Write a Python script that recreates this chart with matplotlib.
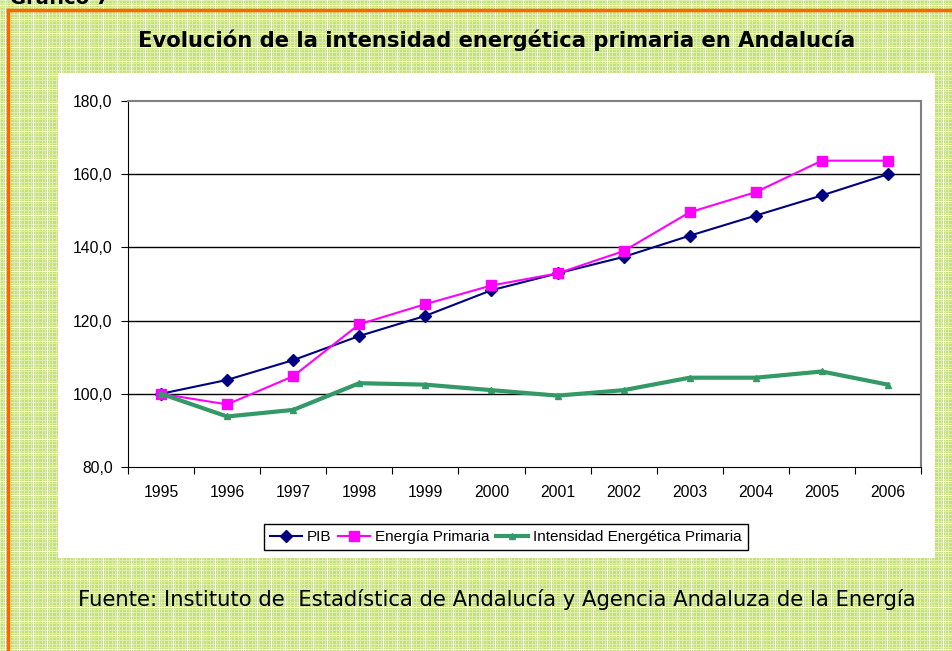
import numpy as np
import matplotlib
matplotlib.use("Agg")
import matplotlib.pyplot as plt
from matplotlib.patches import Rectangle
from matplotlib.lines import Line2D

# Datos (índice 1995 = 100)
years = ["1995", "1996", "1997", "1998", "1999", "2000",
         "2001", "2002", "2003", "2004", "2005", "2006"]
pib = [100.0, 103.8, 109.2, 115.8, 121.3, 128.3,
       132.9, 137.4, 143.2, 148.7, 154.2, 160.0]
energia = [100.0, 97.1, 104.8, 119.0, 124.5, 129.6,
           132.9, 139.0, 149.6, 155.1, 163.7, 163.7]
intensidad = [100.0, 93.8, 95.6, 102.9, 102.5, 101.0,
              99.5, 101.0, 104.4, 104.4, 106.1, 102.5]
yticks = [80, 100, 120, 140, 160, 180]

W, H = 952, 651
fig = plt.figure(figsize=(W / 100, H / 100), dpi=100)

# Fondo verde a cuadros
yy, xx = np.mgrid[0:H, 0:W]
bg = np.ones((H, W, 3)) * np.array([196, 224, 118]) / 255
light = ((xx % 7 == 0) | (xx % 7 == 3) | (yy % 7 == 0) | (yy % 7 == 3))
bg[light] = np.array([222, 238, 176]) / 255
white = ((xx % 14 == 5) | (yy % 14 == 5))
bg[white] = 1.0
fig.figimage(bg, 0, 0, zorder=0)

# Marco naranja
orange = "#ff6600"
fig.add_artist(Line2D([8 / W, 8 / W], [0, 1 - 10 / H], color=orange, lw=2.5,
                      transform=fig.transFigure, zorder=1))
fig.add_artist(Line2D([8 / W, 1], [1 - 10 / H, 1 - 10 / H], color=orange, lw=2.5,
                      transform=fig.transFigure, zorder=1))

# Panel blanco
fig.add_artist(Rectangle((58 / W, 1 - 558 / H), (935 - 58) / W, (558 - 73) / H,
                         facecolor="white", edgecolor="none",
                         transform=fig.transFigure, zorder=1))

fig.text(10 / W, 1 - 4 / H, "Gráfico 7", fontsize=14, fontweight="bold",
         va="baseline", ha="left", zorder=3)
fig.text(497 / W, 1 - 40 / H,
         "Evolución de la intensidad energética primaria en Andalucía",
         fontsize=15.2, fontweight="bold", ha="center", va="center", zorder=3)
fig.text(497 / W, 1 - 600 / H,
         "Fuente: Instituto de  Estadística de Andalucía y Agencia Andaluza de la Energía",
         fontsize=15.2, ha="center", va="center", zorder=3)

ax = fig.add_axes([128 / W, 1 - 467 / H, (921 - 128) / W, (467 - 101) / H])
ax.set_zorder(2)
ax.patch.set_facecolor("white")

x = np.arange(len(years))
ax.plot(x, pib, color="#000080", lw=1.5, marker="D", markersize=6, label="PIB")
ax.plot(x, energia, color="#ff00ff", lw=1.5, marker="s", markersize=7,
        label="Energía Primaria")
ax.plot(x, intensidad, color="#339966", lw=3, marker="^", markersize=5,
        label="Intensidad Energética Primaria")

ax.set_xlim(-0.5, len(years) - 0.5)
ax.set_ylim(80, 180)
ax.set_yticks(yticks)
ax.set_yticklabels([f"{v:.1f}".replace(".", ",") for v in yticks],
                   fontsize=11.3, family="Liberation Sans")
ax.set_xticks(np.arange(len(years) + 1) - 0.5)
ax.set_xticklabels([])
ax.set_xticks(x, minor=True)
ax.set_xticklabels(years, minor=True, fontsize=11.3, family="Liberation Sans")
ax.tick_params(axis="x", which="major", length=5, direction="out")
ax.tick_params(axis="x", which="minor", length=0, pad=13)
ax.tick_params(axis="y", length=5, direction="out", pad=6)

for v in yticks[1:-1]:
    ax.axhline(v, color="black", lw=1, zorder=1)
ax.spines["top"].set_color("#808080")
ax.spines["right"].set_color("#808080")
ax.spines["top"].set_linewidth(1.5)
ax.spines["right"].set_linewidth(1.5)

leg = fig.legend(loc="center", bbox_to_anchor=(506 / W, 1 - 537 / H), ncol=3,
                 frameon=True, fancybox=False, edgecolor="black", framealpha=1,
                 prop={"family": "Liberation Sans", "size": 11},
                 handlelength=2.1, handletextpad=0.3, columnspacing=0.45,
                 borderpad=0.4)
leg.get_frame().set_linewidth(1)
leg.set_zorder(3)

fig.savefig("out.png", dpi=100)
